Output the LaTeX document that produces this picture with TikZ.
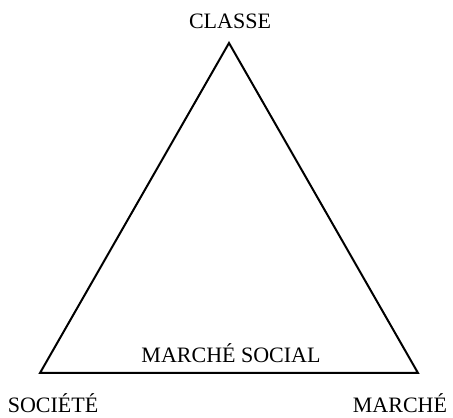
\documentclass[tikz,border=0pt]{standalone}
\usepackage{fontspec}
\setmainfont{Liberation Serif}
\usetikzlibrary{positioning}

\begin{document}
\begin{tikzpicture}[
    x=1pt, y=1pt,
    every node/.style={font=\fontsize{22}{24}\selectfont},
    label/.style={inner sep=0pt, anchor=center},
    side/.style={line width=2pt, line join=miter}
]
    \useasboundingbox (0,0) rectangle (453,418);

    % --- Sommets du triangle ---
    \coordinate (classeV)  at (229, 375);
    \coordinate (societeV) at (40,  45);
    \coordinate (marcheV)  at (418, 45);

    % --- Etiquettes ---
    \node[label] (classe)  at (230, 397) {CLASSE};
    \node[label] (societe) at (53,  15) {SOCIÉTÉ};
    \node[label] (marche)  at (400, 15) {MARCHÉ};
    \node[label] (social)  at (231, 65) {MARCHÉ SOCIAL};

    % --- Triangle ---
    \draw[side] (classeV) -- (marcheV) -- (societeV) -- cycle;

\end{tikzpicture}
\end{document}
